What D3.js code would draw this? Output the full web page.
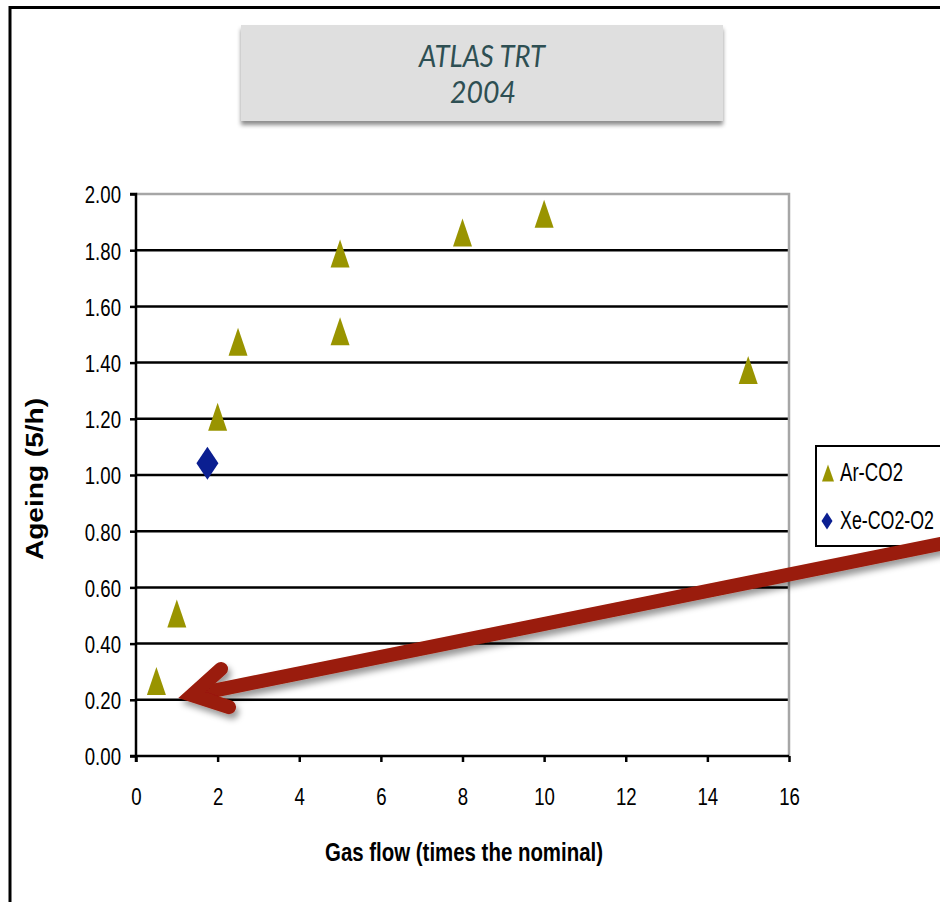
<!DOCTYPE html>
<html><head><meta charset="utf-8">
<script src="https://cdn.jsdelivr.net/npm/d3@7"></script>
<style>
html,body{margin:0;padding:0;background:#fff;}
svg{display:block;}
</style></head>
<body>
<script>
// ---- data ----
const arCO2X = [0.5, 1, 2, 2.5, 5, 5, 8, 10, 15];
const arCO2Y = [0.267, 0.507, 1.207, 1.474, 1.512, 1.788, 1.863, 1.93, 1.374];
const xeX = [1.75];
const xeY = [1.042];
const seriesNames = ["Ar-CO2", "Xe-CO2-O2"];
const xTicks = [0, 2, 4, 6, 8, 10, 12, 14, 16];
const yTicks = [0, 0.2, 0.4, 0.6, 0.8, 1.0, 1.2, 1.4, 1.6, 1.8, 2.0];
const titleLines = ["ATLAS TRT", "2004"];
const xTitle = "Gas flow (times the nominal)";
const yTitle = "Ageing (5/h)";
// annotation arrow in data units: tail, vertex, barbs
const arrowTail = [19.82, 0.758];
const arrowVertex = [1.372, 0.217];
const arrowBarbs = [[2.083, 0.310], [2.279, 0.174]];

const W = 940, H = 902;
const font = "'Liberation Sans Narrow','Arial Narrow','Liberation Sans',Arial,sans-serif";
const svg = d3.select("body").append("svg").attr("width", W).attr("height", H);
const defs = svg.append("defs");
const f1 = defs.append("filter").attr("id","shTitle").attr("x","-5%").attr("y","-20%").attr("width","110%").attr("height","150%");
f1.append("feDropShadow").attr("dx",0).attr("dy",4).attr("stdDeviation",2).attr("flood-color","#000").attr("flood-opacity",0.45);
const f2 = defs.append("filter").attr("id","shArrow").attr("x","-10%").attr("y","-50%").attr("width","120%").attr("height","200%");
f2.append("feDropShadow").attr("dx",3).attr("dy",5).attr("stdDeviation",3).attr("flood-color","#000").attr("flood-opacity",0.4);

// compress text horizontally to emulate a condensed face
function narrow(sel, ratio){
  sel.each(function(){
    const len = this.getComputedTextLength();
    d3.select(this).attr("textLength", len*ratio).attr("lengthAdjust","spacingAndGlyphs");
  });
}

// outer frame
svg.append("rect").attr("x",10).attr("y",7.5).attr("width",1000).attr("height",1000)
  .attr("fill","none").attr("stroke","#000").attr("stroke-width",3);

// title box
svg.append("rect").attr("x",241).attr("y",25).attr("width",482).attr("height",96)
  .attr("fill","#dfdfdf").attr("filter","url(#shTitle)");
svg.append("text").attr("x",482).attr("y",67).attr("text-anchor","middle")
  .attr("font-family","Lato,'Open Sans',sans-serif").attr("font-style","italic")
  .attr("font-size",30).attr("fill","#2e4f53")
  .attr("textLength",126).attr("lengthAdjust","spacingAndGlyphs").text(titleLines[0]);
svg.append("text").attr("x",483).attr("y",103).attr("text-anchor","middle")
  .attr("font-family","Lato,'Open Sans',sans-serif").attr("font-style","italic")
  .attr("font-size",30).attr("fill","#2e4f53")
  .attr("textLength",66).attr("lengthAdjust","spacingAndGlyphs").text(titleLines[1]);

// scales
const x = d3.scaleLinear().domain([0,16]).range([136,789]);
const y = d3.scaleLinear().domain([0,2]).range([756,194]);

// gridlines
svg.append("g").selectAll("line").data(yTicks.filter(v=>v>0 && v<2)).join("line")
  .attr("x1",x(0)).attr("x2",x(16)).attr("y1",d=>y(d)).attr("y2",d=>y(d))
  .attr("stroke","#000").attr("stroke-width",2.5);
// plot border top/right grey
svg.append("path").attr("d",`M${x(0)},${y(2)}H${x(16)}V${y(0)}`)
  .attr("fill","none").attr("stroke","#a6a6a6").attr("stroke-width",2.5);

// axes
const yAxis = d3.axisLeft(y).tickValues(yTicks).tickFormat(d3.format(".2f")).tickSize(6).tickPadding(9);
const gy = svg.append("g").attr("transform",`translate(${x(0)},0)`).call(yAxis);
const xAxis = d3.axisBottom(x).tickValues(xTicks).tickFormat(d3.format("d")).tickSize(6).tickPadding(25);
const gx = svg.append("g").attr("transform",`translate(0,${y(0)})`).call(xAxis);
[gx,gy].forEach(g=>{
  g.select(".domain").attr("stroke","#000").attr("stroke-width",2.5);
  g.selectAll(".tick line").attr("stroke","#000").attr("stroke-width",2.5);
  g.selectAll(".tick text").attr("font-family",font).attr("font-size",24.5).attr("fill","#000");
});
gy.select(".domain").attr("d",`M-6,${y(2)}H0V${y(0)+6}`);
gx.select(".domain").attr("d",`M${x(0)-6},0H${x(16)}`);
gx.selectAll(".tick text").attr("dy","0.72em");
gy.selectAll(".tick text").attr("dy","0.36em");
narrow(gx.selectAll(".tick text"), 0.76);
narrow(gy.selectAll(".tick text"), 0.76);

// axis titles
svg.append("text").attr("x",464).attr("y",861).attr("text-anchor","middle")
  .attr("font-family",font).attr("font-weight","bold").attr("font-size",26)
  .attr("textLength",278).attr("lengthAdjust","spacingAndGlyphs").text(xTitle);
svg.append("text").attr("transform","translate(43,479) rotate(-90)").attr("text-anchor","middle")
  .attr("font-family",font).attr("font-weight","bold").attr("font-size",23)
  .attr("textLength",162).attr("lengthAdjust","spacingAndGlyphs").text(yTitle);

// markers
const tri = (w,h)=>`M0,${-h/2}L${w/2},${h/2}L${-w/2},${h/2}Z`;
const dia = (w,h)=>`M0,${-h/2}L${w/2},0L0,${h/2}L${-w/2},0Z`;
const olive = "#999400", navy = "#0b1f91";
svg.append("g").selectAll("path").data(d3.zip(arCO2X, arCO2Y)).join("path")
  .attr("transform",d=>`translate(${x(d[0])},${y(d[1])})`).attr("d",tri(19,28)).attr("fill",olive);
svg.append("g").selectAll("path").data(d3.zip(xeX, xeY)).join("path")
  .attr("transform",d=>`translate(${x(d[0])},${y(d[1])})`).attr("d",dia(22,33)).attr("fill",navy);

// legend
const lg = svg.append("g");
lg.append("rect").attr("x",816).attr("y",446).attr("width",200).attr("height",100)
  .attr("fill","#fff").attr("stroke","#000").attr("stroke-width",2);
lg.append("path").attr("transform","translate(828,473)").attr("d",tri(12,17)).attr("fill",olive);
lg.append("path").attr("transform","translate(827,521)").attr("d",dia(11,17)).attr("fill",navy);
lg.append("text").attr("x",840).attr("y",481).attr("font-family",font).attr("font-size",25)
  .attr("textLength",63).attr("lengthAdjust","spacingAndGlyphs").text(seriesNames[0]);
lg.append("text").attr("x",840).attr("y",529).attr("font-family",font).attr("font-size",25)
  .attr("textLength",94).attr("lengthAdjust","spacingAndGlyphs").text(seriesNames[1]);

// arrow annotation
const P = d=>[x(d[0]),y(d[1])];
const ag = svg.append("g").attr("filter","url(#shArrow)");
ag.append("path").attr("d",`M${P(arrowTail)}L${P(arrowVertex)}`)
  .attr("fill","none").attr("stroke","#9a1a08").attr("stroke-width",14).attr("stroke-linecap","butt");
ag.append("path").attr("d",`M${P(arrowBarbs[0])}L${P(arrowVertex)}L${P(arrowBarbs[1])}`)
  .attr("fill","none").attr("stroke","#9a1a08").attr("stroke-width",14)
  .attr("stroke-linecap","round").attr("stroke-linejoin","miter").attr("stroke-miterlimit",10);
</script>
</body></html>
